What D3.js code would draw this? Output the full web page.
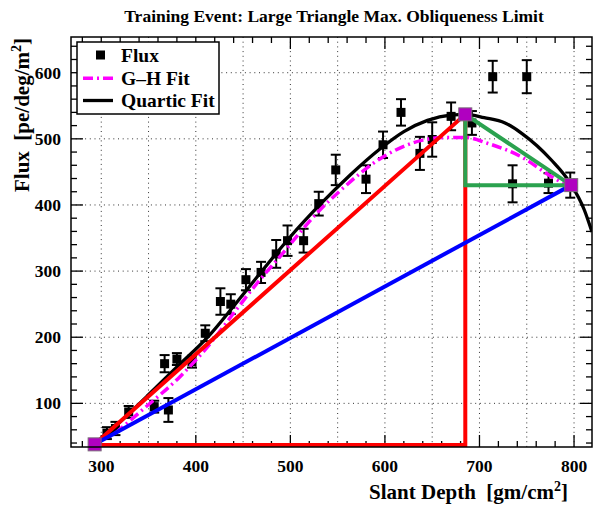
<!DOCTYPE html>
<html>
<head>
<meta charset="utf-8">
<script src="https://cdn.jsdelivr.net/npm/d3@7"></script>
<style>
  html, body { margin: 0; padding: 0; background: #fff; }
  svg { display: block; }
  text { font-family: 'Liberation Serif', 'Times New Roman', serif; font-weight: bold; white-space: pre; }
</style>
</head>
<body>
<svg id="chart" width="595" height="507"></svg>
<script>
// ---------------- data ----------------
const titleText = "Training Event: Large Triangle Max. Obliqueness Limit";
const xTitle = "Slant Depth  [gm/cm";
const yTitle = "Flux  [pe/deg/m";
const xTickLabels = [300, 400, 500, 600, 700, 800];
const yTickLabels = [100, 200, 300, 400, 500, 600];

// measured flux points
const depth = [306, 315, 329, 356, 371, 367, 380, 396, 410, 426, 437, 453, 469, 485, 497, 514, 530, 548, 580, 598, 617, 637, 650, 670, 692, 714, 735, 750, 773, 796];
const flux  = [55, 62, 87, 95, 90, 160, 167, 163, 206, 254, 250, 287, 298, 326, 346, 346, 402, 453, 439, 491, 540, 478, 499, 534, 524, 594, 432, 594, 433, 430];
const fluxErr = [9, 10, 9, 9, 18, 13, 9, 9, 12, 20, 15, 16, 16, 21, 23, 18, 18, 23, 21, 20, 20, 25, 26, 21, 18, 24, 28, 25, 15, 19];

// quartic fit curve
const quarticX = [293, 320, 350, 380, 415, 440, 471, 500, 531, 563, 595, 620, 645, 670, 686, 705, 727, 745, 776, 796, 811, 819];
const quarticY = [37, 72, 113, 155, 204, 247, 302, 352, 400, 445, 485, 511, 528, 536, 537, 532, 524, 508, 468, 433, 392, 359];

// Gaisser-Hillas fit curve
const ghX = [315, 345, 383, 415, 443, 465, 489, 531, 553, 595, 640, 665, 685, 709, 744, 776, 795];
const ghY = [55, 92, 140, 190, 242, 282, 322, 392, 422, 470, 498, 502, 502, 493, 473, 443, 428];

// triangle vertices: start, peak, end
const triX = [293, 685, 797];
const triY = [38, 537, 430];
const redBaseY = 37;

// ---------------- layout ----------------
const svg = d3.select("#chart");
const L = 71, R = 592, T = 37, B = 447;
const x = d3.scaleLinear().domain([268, 819]).range([L, R]);
const y = d3.scaleLinear().domain([34, 654]).range([B, T]);

svg.append("defs").append("clipPath").attr("id", "clip")
  .append("rect").attr("x", L).attr("y", T).attr("width", R - L).attr("height", B - T);

// grid
const grid = svg.append("g").attr("stroke", "#333").attr("stroke-width", 1).attr("stroke-dasharray", "1,3.7");
d3.range(300, 801, 50).forEach(v => {
  grid.append("line").attr("x1", x(v)).attr("x2", x(v)).attr("y1", T).attr("y2", B);
});
yTickLabels.forEach(v => {
  grid.append("line").attr("x1", L).attr("x2", R).attr("y1", y(v)).attr("y2", y(v));
});

// ticks (inward on all four sides)
const ticks = svg.append("g").attr("stroke", "#000").attr("stroke-width", 1.3);
d3.range(280, 801, 20).forEach(v => {
  const len = v % 100 === 0 ? 12 : 6;
  ticks.append("line").attr("x1", x(v)).attr("x2", x(v)).attr("y1", B).attr("y2", B - len);
  ticks.append("line").attr("x1", x(v)).attr("x2", x(v)).attr("y1", T).attr("y2", T + len);
});
d3.range(40, 641, 20).forEach(v => {
  const len = v % 100 === 0 ? 12 : 6;
  ticks.append("line").attr("y1", y(v)).attr("y2", y(v)).attr("x1", L).attr("x2", L + len);
  ticks.append("line").attr("y1", y(v)).attr("y2", y(v)).attr("x1", R).attr("x2", R - len);
});

const plot = svg.append("g").attr("clip-path", "url(#clip)");

// data points with error bars
const pts = depth.map((d, i) => ({ x: d, y: flux[i], e: fluxErr[i] }));
const pg = plot.append("g");
pts.forEach(p => {
  const cx = x(p.x);
  pg.append("line").attr("x1", cx).attr("x2", cx).attr("y1", y(p.y - p.e)).attr("y2", y(p.y + p.e))
    .attr("stroke", "#000").attr("stroke-width", 2);
  [p.y - p.e, p.y + p.e].forEach(v => {
    pg.append("line").attr("x1", cx - 5).attr("x2", cx + 5).attr("y1", y(v)).attr("y2", y(v))
      .attr("stroke", "#000").attr("stroke-width", 2);
  });
  pg.append("rect").attr("x", cx - 4.5).attr("y", y(p.y) - 4.5).attr("width", 9).attr("height", 9).attr("fill", "#000");
});

// fits
const line = d3.line().x(d => x(d[0])).y(d => y(d[1])).curve(d3.curveMonotoneX);
plot.append("path").datum(quarticX.map((v, i) => [v, quarticY[i]]))
  .attr("d", line).attr("fill", "none").attr("stroke", "#000").attr("stroke-width", 3.3);
plot.append("path").datum(ghX.map((v, i) => [v, ghY[i]]))
  .attr("d", line).attr("fill", "none").attr("stroke", "#ff00ff").attr("stroke-width", 3.5)
  .attr("stroke-dasharray", "10,4,2,4");

// triangles
const straight = d3.line().x(d => x(d[0])).y(d => y(d[1]));
plot.append("path").datum([[triX[0], redBaseY], [triX[1], redBaseY], [triX[1], triY[1]], [triX[0], triY[0]]])
  .attr("d", straight).attr("fill", "none").attr("stroke", "#ff0000").attr("stroke-width", 4);
plot.append("path").datum([[triX[0], triY[0]], [triX[2], triY[2]]])
  .attr("d", straight).attr("fill", "none").attr("stroke", "#0000ff").attr("stroke-width", 4);
plot.append("path").datum([[triX[1], triY[1]], [triX[2], triY[2]], [triX[1], triY[2]], [triX[1], triY[1]]])
  .attr("d", straight).attr("fill", "none").attr("stroke", "#2ba24f").attr("stroke-width", 4);

// purple vertex markers
triX.forEach((v, i) => {
  svg.append("rect").attr("x", x(v) - 6.5).attr("y", y(triY[i]) - 6.5).attr("width", 13).attr("height", 13)
    .attr("fill", "#b000c0").attr("stroke", "#7a6a7a").attr("stroke-width", 1);
});

// frame
svg.append("rect").attr("x", L).attr("y", T).attr("width", R - L).attr("height", B - T)
  .attr("fill", "none").attr("stroke", "#000").attr("stroke-width", 1.5);

// tick labels
xTickLabels.forEach(v => {
  svg.append("text").attr("x", x(v)).attr("y", 472).attr("text-anchor", "middle")
    .attr("font-size", 17.5).text(v);
});
yTickLabels.forEach(v => {
  svg.append("text").attr("x", 61).attr("y", y(v) + 6).attr("text-anchor", "end")
    .attr("font-size", 17.5).text(v);
});

// axis titles
const xt = svg.append("text").attr("x", 568).attr("y", 499).attr("text-anchor", "end").attr("font-size", 21);
xt.append("tspan").text(xTitle);
xt.append("tspan").attr("dy", -8).attr("font-size", 14).text("2");
xt.append("tspan").attr("dy", 8).text("]");

const yt = svg.append("text").attr("transform", "translate(29,38) rotate(-90)").attr("text-anchor", "end").attr("font-size", 21);
yt.append("tspan").text(yTitle);
yt.append("tspan").attr("dy", -8).attr("font-size", 14).text("2");
yt.append("tspan").attr("dy", 8).text("]");

// title
svg.append("text").attr("x", 334).attr("y", 22).attr("text-anchor", "middle").attr("font-size", 17.5).text(titleText);

// legend
const lg = svg.append("g");
lg.append("rect").attr("x", 77).attr("y", 42).attr("width", 142).attr("height", 72)
  .attr("fill", "#fff").attr("stroke", "#000").attr("stroke-width", 1.5);
lg.append("rect").attr("x", 96).attr("y", 50.5).attr("width", 9).attr("height", 9).attr("fill", "#000");
lg.append("line").attr("x1", 83).attr("x2", 113).attr("y1", 78.3).attr("y2", 78.3)
  .attr("stroke", "#ff00ff").attr("stroke-width", 3.5).attr("stroke-dasharray", "10,4,2,4");
lg.append("line").attr("x1", 83).attr("x2", 113).attr("y1", 100.5).attr("y2", 100.5)
  .attr("stroke", "#000").attr("stroke-width", 3.3);
[["Flux", 55], ["G\u2013H Fit", 78], ["Quartic Fit", 100]].forEach(([t, cy]) => {
  lg.append("text").attr("x", 121).attr("y", cy + 6.5).attr("font-size", 19.5).text(t);
});
</script>
</body>
</html>
